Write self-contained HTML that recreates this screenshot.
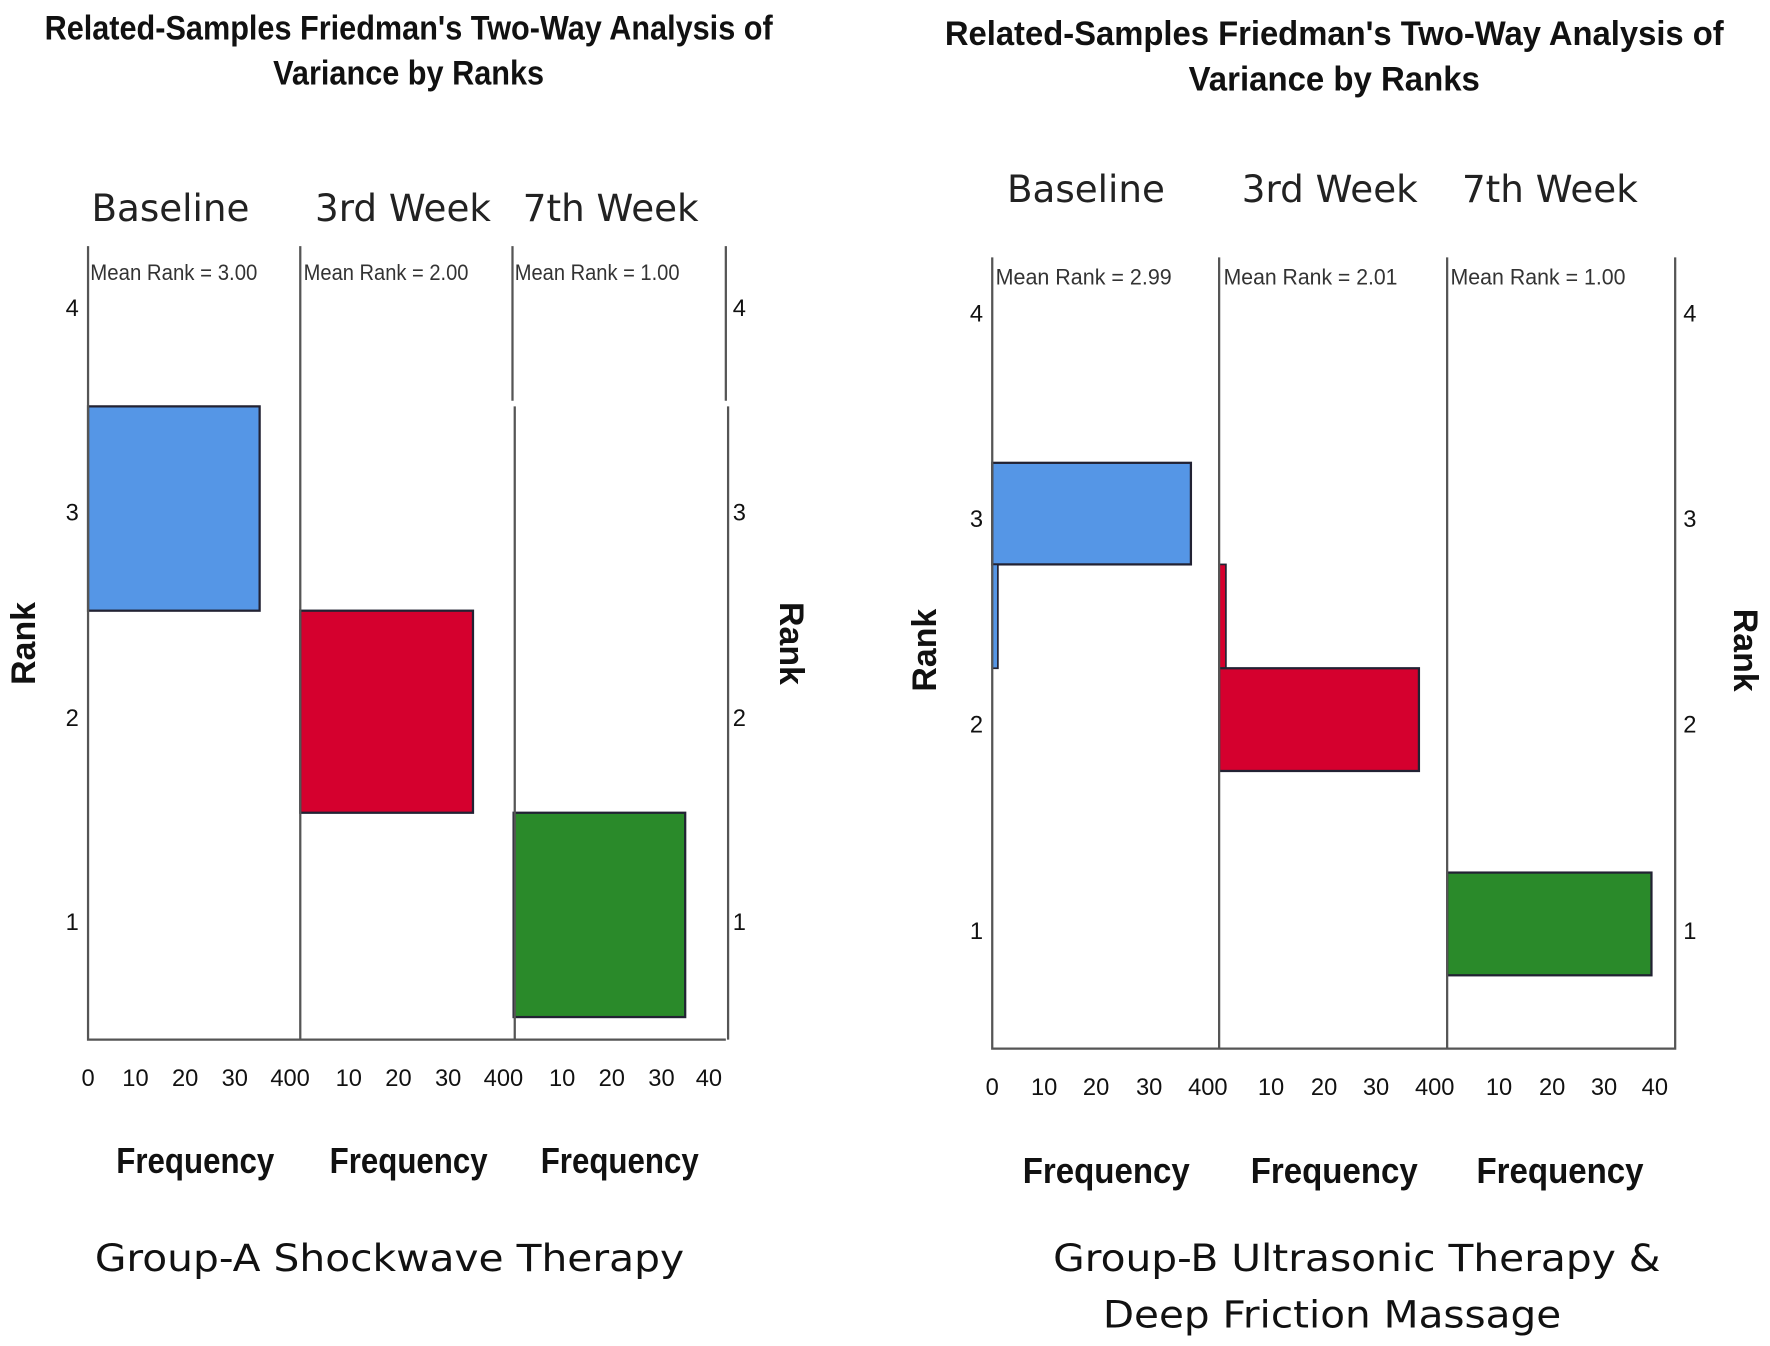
<!DOCTYPE html>
<html><head><meta charset="utf-8"><style>
html,body{margin:0;padding:0;background:#fff;}
svg{display:block;}
text{font-family:"Liberation Sans",sans-serif;fill:#111;}
.t{font-weight:bold;font-size:30px;}
.h{font-family:"DejaVu Sans","Liberation Sans",sans-serif;font-size:33px;fill:#222;}
.m{font-size:20px;fill:#333;}
.k{font-size:21px;fill:#333;}
.f{font-weight:bold;font-size:32px;}
.r{font-weight:bold;font-size:30px;}
.g{font-family:"DejaVu Sans","Liberation Sans",sans-serif;font-size:33px;fill:#111;}
.ax{stroke:#555;stroke-width:2;fill:none;}
</style></head><body>
<svg width="1770" height="1346" viewBox="0 0 1568 1192.4" xmlns="http://www.w3.org/2000/svg">
<!-- LEFT CHART -->
<text class="t" x="362" y="35" text-anchor="middle" textLength="645" lengthAdjust="spacingAndGlyphs">Related-Samples Friedman's Two-Way Analysis of</text>
<text class="t" x="362" y="75" text-anchor="middle" textLength="240" lengthAdjust="spacingAndGlyphs">Variance by Ranks</text>
<text class="h" x="151" y="196" text-anchor="middle">Baseline</text>
<text class="h" x="357" y="196" text-anchor="middle">3rd Week</text>
<text class="h" x="541" y="196" text-anchor="middle">7th Week</text>
<rect x="78" y="360" width="152" height="181" fill="#5596e6" stroke="#223" stroke-width="2"/>
<rect x="266" y="541" width="153" height="179" fill="#d5002e" stroke="#223" stroke-width="2"/>
<rect x="455" y="720" width="152" height="181" fill="#2a8a2a" stroke="#223" stroke-width="2"/>
<path class="ax" d="M78 218V921H643M266 218V921M454 218V355M456 360V921M643 218V355M645 360V921"/>
<text class="m" x="80" y="248" textLength="148" lengthAdjust="spacingAndGlyphs">Mean Rank = 3.00</text>
<text class="m" x="269" y="248" textLength="146" lengthAdjust="spacingAndGlyphs">Mean Rank = 2.00</text>
<text class="m" x="456" y="248" textLength="146" lengthAdjust="spacingAndGlyphs">Mean Rank = 1.00</text>
<g class="k" text-anchor="middle">
<text x="64" y="280">4</text><text x="64" y="461">3</text><text x="64" y="643">2</text><text x="64" y="824">1</text>
<text x="655" y="280">4</text><text x="655" y="461">3</text><text x="655" y="643">2</text><text x="655" y="824">1</text>
<text x="78" y="962">0</text><text x="120" y="962">10</text><text x="164" y="962">20</text><text x="208" y="962">30</text><text x="257" y="962">400</text>
<text x="309" y="962">10</text><text x="353" y="962">20</text><text x="397" y="962">30</text><text x="446" y="962">400</text>
<text x="498" y="962">10</text><text x="542" y="962">20</text><text x="586" y="962">30</text><text x="628" y="962">40</text>
</g>
<text class="r" transform="translate(31,570) rotate(-90)" text-anchor="middle">Rank</text>
<text class="r" transform="translate(691,570) rotate(90)" text-anchor="middle">Rank</text>
<text class="f" x="173" y="1039" text-anchor="middle" textLength="140" lengthAdjust="spacingAndGlyphs">Frequency</text>
<text class="f" x="362" y="1039" text-anchor="middle" textLength="140" lengthAdjust="spacingAndGlyphs">Frequency</text>
<text class="f" x="549" y="1039" text-anchor="middle" textLength="140" lengthAdjust="spacingAndGlyphs">Frequency</text>
<text class="g" x="84" y="1126" textLength="522" lengthAdjust="spacingAndGlyphs">Group-A Shockwave Therapy</text>

<!-- RIGHT CHART -->
<text class="t" x="1182" y="40" text-anchor="middle" textLength="690" lengthAdjust="spacingAndGlyphs">Related-Samples Friedman's Two-Way Analysis of</text>
<text class="t" x="1182" y="80" text-anchor="middle" textLength="258" lengthAdjust="spacingAndGlyphs">Variance by Ranks</text>
<text class="h" x="962" y="179" text-anchor="middle">Baseline</text>
<text class="h" x="1178" y="179" text-anchor="middle">3rd Week</text>
<text class="h" x="1373" y="179" text-anchor="middle">7th Week</text>
<rect x="879" y="410" width="176" height="90" fill="#5596e6" stroke="#223" stroke-width="2"/>
<rect x="879" y="500" width="5" height="92" fill="#5596e6" stroke="#223" stroke-width="1.5"/>
<rect x="1080" y="500" width="6" height="92" fill="#d5002e" stroke="#223" stroke-width="1.5"/>
<rect x="1080" y="592" width="177" height="91" fill="#d5002e" stroke="#223" stroke-width="2"/>
<rect x="1282" y="773" width="181" height="91" fill="#2a8a2a" stroke="#223" stroke-width="2"/>
<path class="ax" d="M879 228V929H1484V228M1080 228V929M1282 228V929"/>
<text class="m" x="882" y="252" textLength="156" lengthAdjust="spacingAndGlyphs">Mean Rank = 2.99</text>
<text class="m" x="1084" y="252" textLength="154" lengthAdjust="spacingAndGlyphs">Mean Rank = 2.01</text>
<text class="m" x="1285" y="252" textLength="155" lengthAdjust="spacingAndGlyphs">Mean Rank = 1.00</text>
<g class="k" text-anchor="middle">
<text x="865" y="285">4</text><text x="865" y="467">3</text><text x="865" y="649">2</text><text x="865" y="832">1</text>
<text x="1497" y="285">4</text><text x="1497" y="467">3</text><text x="1497" y="649">2</text><text x="1497" y="832">1</text>
<text x="879" y="970">0</text><text x="925" y="970">10</text><text x="971" y="970">20</text><text x="1018" y="970">30</text><text x="1070" y="970">400</text>
<text x="1126" y="970">10</text><text x="1173" y="970">20</text><text x="1219" y="970">30</text><text x="1271" y="970">400</text>
<text x="1328" y="970">10</text><text x="1375" y="970">20</text><text x="1421" y="970">30</text><text x="1466" y="970">40</text>
</g>
<text class="r" transform="translate(829,576) rotate(-90)" text-anchor="middle">Rank</text>
<text class="r" transform="translate(1536,576) rotate(90)" text-anchor="middle">Rank</text>
<text class="f" x="980" y="1048" text-anchor="middle" textLength="148" lengthAdjust="spacingAndGlyphs">Frequency</text>
<text class="f" x="1182" y="1048" text-anchor="middle" textLength="148" lengthAdjust="spacingAndGlyphs">Frequency</text>
<text class="f" x="1382" y="1048" text-anchor="middle" textLength="148" lengthAdjust="spacingAndGlyphs">Frequency</text>
<text class="g" x="1202" y="1126" text-anchor="middle" textLength="538" lengthAdjust="spacingAndGlyphs">Group-B Ultrasonic Therapy &amp;</text>
<text class="g" x="1180" y="1176" text-anchor="middle" textLength="406" lengthAdjust="spacingAndGlyphs">Deep Friction Massage</text>
</svg>
</body></html>
